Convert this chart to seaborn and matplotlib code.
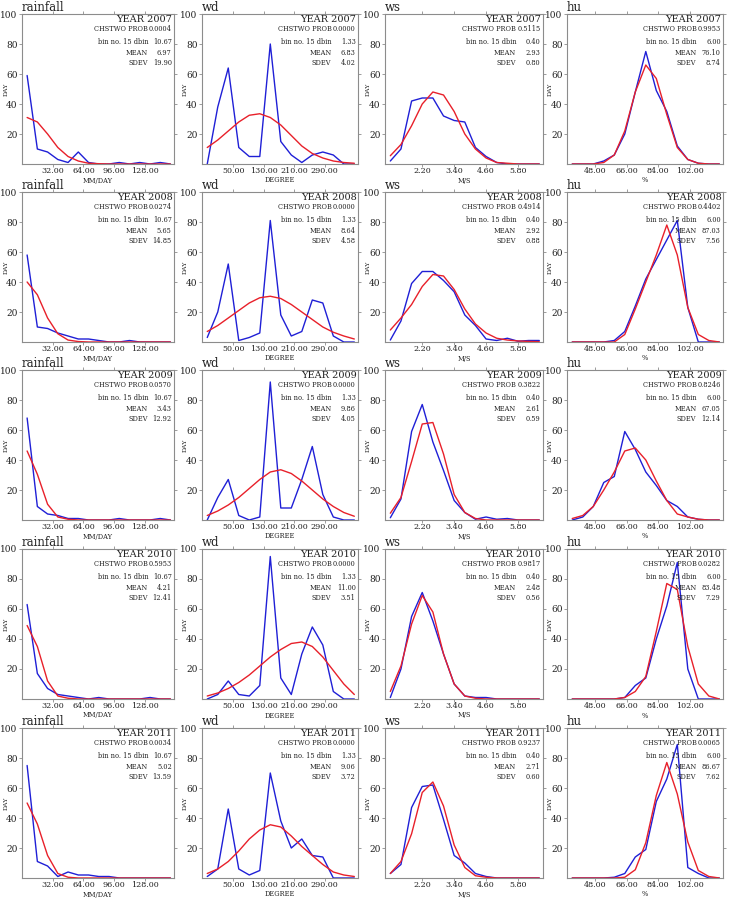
import numpy as np
import pandas as pd
import matplotlib
matplotlib.use("Agg")
import matplotlib.pyplot as plt
import seaborn as sns

# ---------------- data ----------------
years = [2007, 2008, 2009, 2010, 2011]
variables = ["rainfall", "wd", "ws", "hu"]
xlabels = {"rainfall": "MM/DAY", "wd": "DEGREE", "ws": "M/S", "hu": "%"}

# x axis: first bin centre and bin spacing (axis units) + tick values
bin_start = {"rainfall": 5.33, "wd": -18.6, "ws": 1.0, "hu": 35.0}
bin_step = {"rainfall": 10.67, "wd": 27.6, "ws": 0.40, "hu": 6.0}
xtick_vals = {"rainfall": [32, 64, 96, 128], "wd": [50, 130, 210, 290],
              "ws": [2.2, 3.4, 4.6, 5.8], "hu": [48, 66, 84, 102]}
dbin_label = {"rainfall": "10.67", "wd": "1.33", "ws": "0.40", "hu": "6.00"}

rainfall_obs = [
    [59, 10, 8, 3, 1, 8, 1, 0, 0, 1, 0, 1, 0, 1, 0],
    [58, 10, 9, 6, 4, 2, 2, 1, 0, 0, 1, 0, 0, 0, 0],
    [68, 9, 4, 3, 1, 1, 0, 0, 0, 1, 0, 0, 0, 1, 0],
    [63, 17, 7, 3, 2, 1, 0, 1, 0, 0, 0, 0, 1, 0, 0],
    [75, 11, 8, 1, 4, 2, 2, 1, 1, 0, 0, 0, 0, 0, 0],
]
rainfall_fit = [
    [31, 28, 20, 11, 5, 2, 0.5, 0.2, 0, 0, 0, 0, 0, 0, 0],
    [40, 31.5, 16, 5.5, 1.3, 0.3, 0, 0, 0, 0, 0, 0, 0, 0, 0],
    [46, 30.5, 10.5, 2, 0.5, 0, 0, 0, 0, 0, 0, 0, 0, 0, 0],
    [49, 35, 12, 2, 0.5, 0, 0, 0, 0, 0, 0, 0, 0, 0, 0],
    [50, 36, 15, 3, 0.5, 0, 0, 0, 0, 0, 0, 0, 0, 0, 0],
]
wd_obs = [
    [0, 38, 64, 11, 5, 5, 80, 15, 6, 1, 6, 8, 6, 0, 0],
    [3, 20, 52, 1, 3, 6, 81, 18, 4, 7, 28, 26, 4, 0, 0],
    [0, 15, 27, 3, 0, 2, 92, 8, 8, 27, 49, 17, 2, 0, 0],
    [0, 3, 12, 3, 2, 9, 95, 14, 3, 30, 48, 36, 5, 0, 0],
    [1, 6, 46, 6, 2, 5, 70, 38, 20, 26, 15, 14, 0, 0, 0],
]
wd_fit = [
    [11, 16, 22, 28, 32.5, 33.5, 31, 26, 19, 12, 7, 4, 2, 1, 0.5],
    [7, 11, 16, 21, 26, 29.5, 30.5, 29, 25, 20, 15, 10, 6.5, 4, 2],
    [3, 6, 10, 15, 21, 27, 32, 33.5, 31, 26, 20, 14, 9, 5, 2.5],
    [2, 4, 7, 11, 16, 22, 28, 33, 37, 38, 35, 28, 19, 10, 3],
    [3, 6, 11, 18, 26, 32, 35.5, 34, 28, 21, 15, 9, 4, 2, 1],
]
ws_obs = [
    [2, 10, 42, 44, 44, 32, 29, 28, 11, 5, 1, 0, 0, 0, 0],
    [1.3, 14, 39, 47, 47, 41, 33.5, 18, 11, 2, 1, 2.5, 0.5, 1, 1],
    [1.5, 14, 59, 77, 52, 33, 13, 5, 0.5, 2, 0.5, 1, 0, 0, 0],
    [1, 20, 55, 71, 52, 30, 10, 2, 1, 1, 0, 0, 0, 0, 0],
    [3, 9, 47, 61, 62, 39, 15, 10, 3, 1, 0, 0, 0, 0, 0],
]
ws_fit = [
    [5.5, 13, 25.5, 40, 48, 46, 35, 20, 10, 4, 1, 0.5, 0, 0, 0],
    [8, 16, 25, 37, 45, 44, 35, 22, 12, 6, 2.5, 1.3, 0.7, 0.4, 0.2],
    [4.5, 15, 39, 64, 65, 44, 17, 5, 1, 0, 0, 0, 0, 0, 0],
    [5, 22, 50, 69, 58, 30, 10, 2, 0.5, 0, 0, 0, 0, 0, 0],
    [3, 11, 29.5, 57, 64, 48, 22, 7, 1.5, 0.5, 0, 0, 0, 0, 0],
]
hu_obs = [
    [0, 0, 0, 2, 6, 20, 48, 75, 49, 35, 12, 3, 0.5, 0, 0],
    [0, 0, 0, 0, 1, 7, 24, 42, 55, 68, 81, 23, 0, 0, 0],
    [0, 2, 9, 25, 29, 59, 47, 32, 23, 13, 9, 2, 0.5, 0, 0],
    [0, 0, 0, 0, 0, 1, 9, 14, 40, 62, 91, 20, 0, 0, 0],
    [0, 0, 0, 0, 0.5, 3, 14, 19, 51, 66, 89, 7, 3, 0, 0],
]
hu_fit = [
    [0, 0, 0, 1, 6, 22, 48, 66, 57, 33, 11, 3, 0.5, 0, 0],
    [0, 0, 0, 0, 0, 5, 22, 40, 58, 78, 58, 23, 5, 1, 0],
    [1, 3, 9, 20, 32, 46, 48, 40, 26, 13, 4, 2, 0.5, 0, 0],
    [0, 0, 0, 0, 0, 1, 5, 15, 45, 77, 73, 35, 10, 2, 0],
    [0, 0, 0, 0, 0, 0.5, 5.5, 23.5, 55, 77, 56, 24, 5, 1, 0],
]
obs = {"rainfall": rainfall_obs, "wd": wd_obs, "ws": ws_obs, "hu": hu_obs}
fit = {"rainfall": rainfall_fit, "wd": wd_fit, "ws": ws_fit, "hu": hu_fit}

rainfall_prob = ["0.0004", "0.0274", "0.0570", "0.5953", "0.0034"]
rainfall_mean = ["6.97", "5.65", "3.43", "4.21", "5.02"]
rainfall_sdev = ["19.90", "14.85", "12.92", "12.41", "13.59"]
wd_prob = ["0.0000", "0.0000", "0.0000", "0.0000", "0.0000"]
wd_mean = ["6.83", "8.64", "9.86", "11.00", "9.06"]
wd_sdev = ["4.02", "4.58", "4.05", "3.51", "3.72"]
ws_prob = ["0.5115", "0.4914", "0.3822", "0.9817", "0.9237"]
ws_mean = ["2.93", "2.92", "2.61", "2.48", "2.71"]
ws_sdev = ["0.80", "0.88", "0.59", "0.56", "0.60"]
hu_prob = ["0.9953", "0.4402", "0.8246", "0.0282", "0.0065"]
hu_mean = ["76.10", "87.03", "67.05", "83.48", "86.67"]
hu_sdev = ["8.74", "7.56", "12.14", "7.29", "7.62"]
probs = {"rainfall": rainfall_prob, "wd": wd_prob, "ws": ws_prob, "hu": hu_prob}
means = {"rainfall": rainfall_mean, "wd": wd_mean, "ws": ws_mean, "hu": hu_mean}
sdevs = {"rainfall": rainfall_sdev, "wd": wd_sdev, "ws": ws_sdev, "hu": hu_sdev}

# ---------------- style ----------------
sns.set_theme(style="white")
plt.rcParams["font.family"] = ["DejaVu Serif"]

W, H = 730, 898
fig = plt.figure(figsize=(W / 100, H / 100), dpi=100)

col_left = [22, 202, 385, 567]
col_width = [152, 156, 158, 156]
row_top = [14, 192, 370, 549, 728]
row_h = 150

spine_col = "#8c8c8c"
txt_col = "#222222"
BLUE = "#1f1fd6"
RED = "#e8202a"

for r, year in enumerate(years):
    for c, var in enumerate(variables):
        ax = fig.add_axes([col_left[c] / W, 1 - (row_top[r] + row_h) / H,
                           col_width[c] / W, row_h / H])
        x0, dx = bin_start[var], bin_step[var]
        xs = [x0 + dx * i for i in range(15)]
        df = pd.DataFrame({"x": xs + xs,
                           "y": list(obs[var][r]) + list(fit[var][r]),
                           "kind": ["obs"] * 15 + ["fit"] * 15})
        sns.lineplot(data=df, x="x", y="y", hue="kind",
                     palette={"obs": BLUE, "fit": RED}, linewidth=1.0,
                     legend=False, ax=ax, estimator=None, sort=False)
        ax.set_xlim(x0 - 0.5 * dx, x0 + 14.35 * dx)
        ax.set_ylim(0, 100)
        ax.set_xticks(xtick_vals[var])
        ax.set_xticklabels([f"{v:.2f}" for v in xtick_vals[var]])
        ax.set_yticks([20, 40, 60, 80, 100])
        ax.set_yticklabels(["20", "40", "60", "80", "100"])
        ax.set_xlabel("")
        ax.set_ylabel("")
        ax.tick_params(axis="both", which="both", direction="out",
                       width=0.6, color=spine_col, labelcolor=txt_col,
                       top=True, right=True, bottom=True, left=True)
        ax.tick_params(axis="x", labelsize=5.8, length=2, pad=0.5)
        ax.tick_params(axis="y", labelsize=6.5, length=2.5, pad=0.8)
        for sp in ax.spines.values():
            sp.set_color(spine_col)
            sp.set_linewidth(0.8)
        ax.set_facecolor("white")

        ax.text(0.0, 1.018, var, transform=ax.transAxes, ha="left",
                va="baseline", fontsize=8.5, color=txt_col)
        ax.text(0.99, 0.995, f"YEAR {year}", transform=ax.transAxes,
                ha="right", va="top", fontsize=7, color=txt_col)
        labels = ["CHSTWO PROB", "bin no. 15 dbin", "MEAN", "SDEV"]
        values = [probs[var][r], dbin_label[var], means[var][r], sdevs[var][r]]
        ys = [0.897, 0.815, 0.743, 0.672]
        for lab, val, yy in zip(labels, values, ys):
            ax.text(0.83, yy, lab, transform=ax.transAxes, ha="right",
                    va="center", fontsize=4.8, color=txt_col)
            ax.text(0.985, yy, val, transform=ax.transAxes, ha="right",
                    va="center", fontsize=4.8, color=txt_col)
        ax.text(-0.105, 0.5, "DAY", transform=ax.transAxes, rotation=90,
                ha="center", va="center", fontsize=4.5, color=txt_col)
        ax.text(0.5, -0.11, xlabels[var], transform=ax.transAxes,
                ha="center", va="center", fontsize=4.8, color=txt_col)

fig.savefig("out.png", dpi=100, facecolor="white")
